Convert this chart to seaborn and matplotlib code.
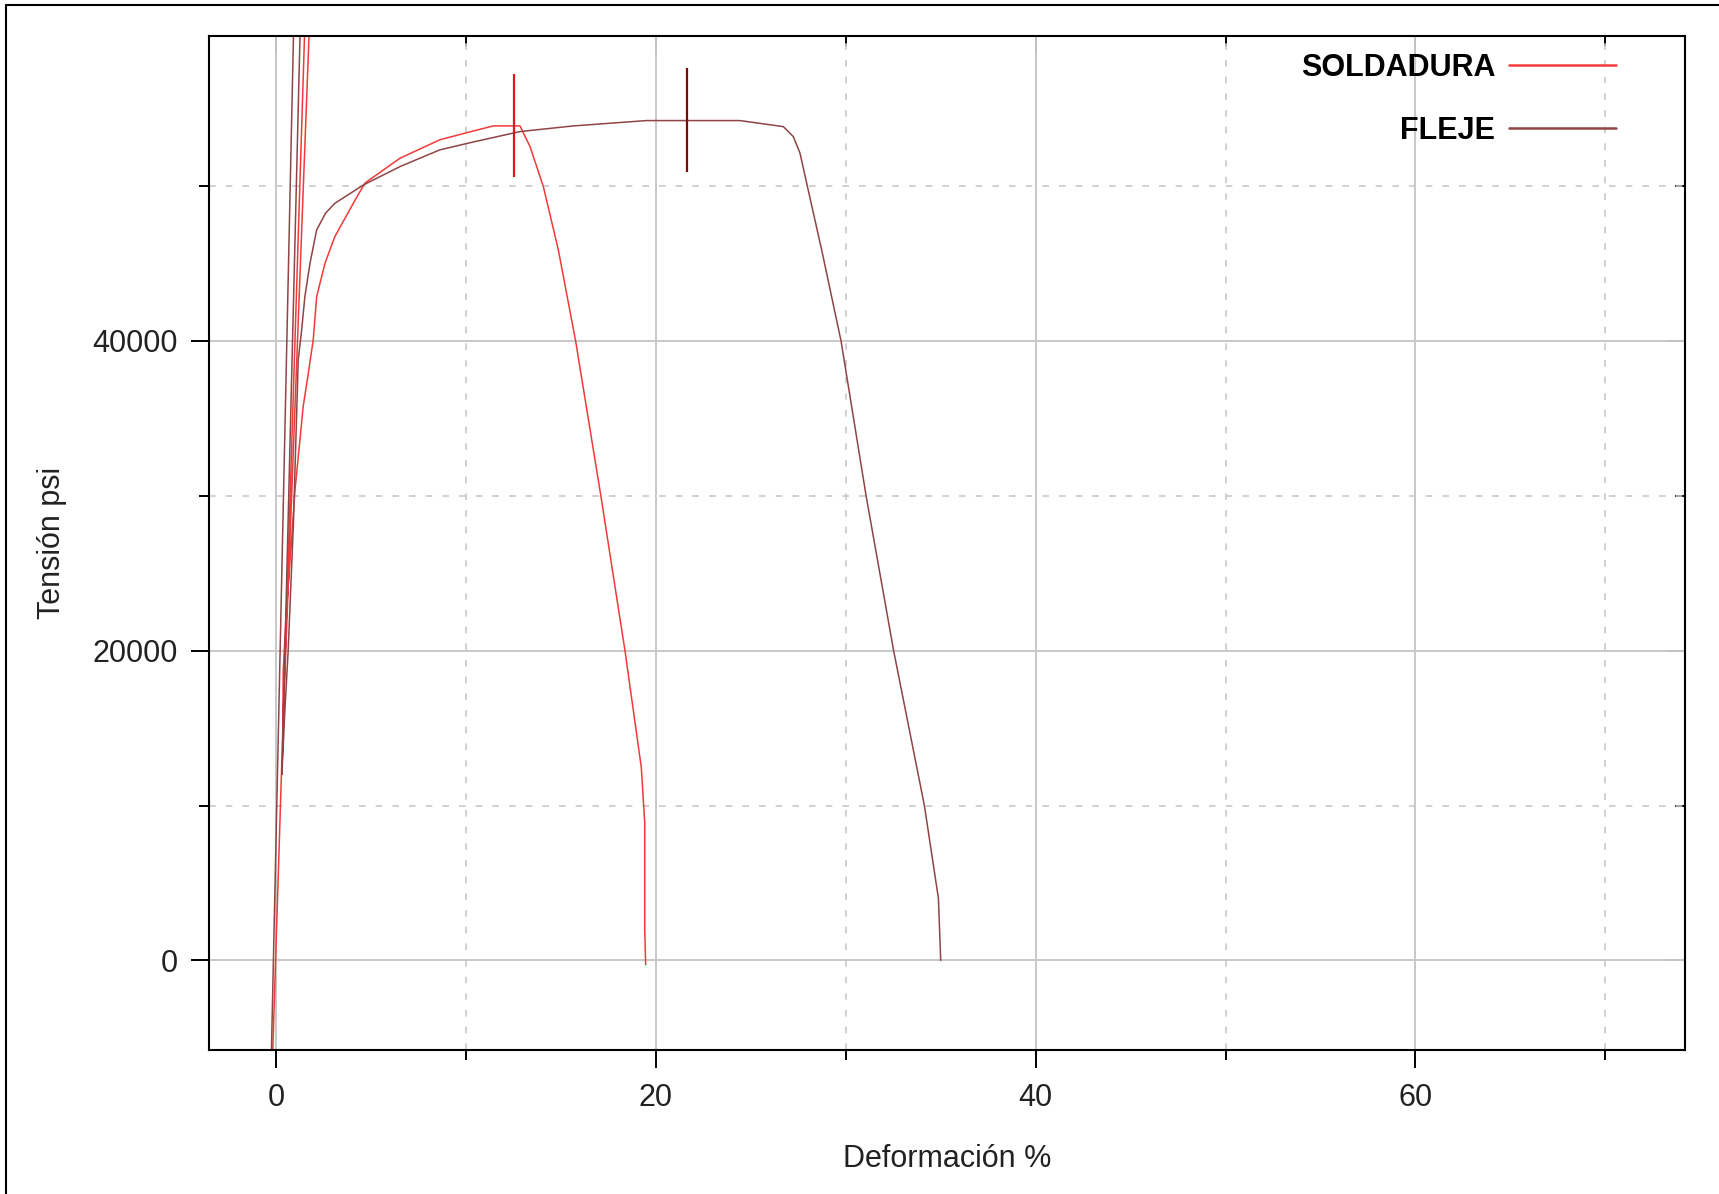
import seaborn as sns
import matplotlib.pyplot as plt
from matplotlib.lines import Line2D
from matplotlib.ticker import MultipleLocator

# SOLDADURA (weld) curve: strain %, stress psi
sold_x = [-0.18, 1.55, 1.8, 0.35, 0.37, 0.55, 0.81, 0.99, 1.25, 1.42, 1.69, 1.95, 2.13, 2.57, 3.09,
          4.06, 4.67, 6.52, 8.62, 10.2, 11.43, 12.84, 13.37, 14.07, 14.86, 15.77, 17.1, 18.37,
          19.23, 19.41, 19.41, 19.46]
sold_y = [-5800, 62000, 62000, 15000, 18750, 22840, 27150, 30380, 33610, 35760, 37910, 40070, 42860,
          45020, 46740, 48890, 50190, 51800, 52990, 53500, 53885, 53885, 52550, 49970, 45880, 40000,
          30000, 20000, 12460, 8925, 2000, -280]

# FLEJE (strip) curve
flej_x = [-0.25, 0.95, 1.3, 0.3, 0.45, 0.63, 0.9, 1.16, 1.34, 1.51, 1.78, 2.13, 2.6, 3.09, 4.59, 6.52,
          8.62, 10.28, 12.84, 15.65, 19.5, 24.43, 26.71, 27.24, 27.59, 27.94, 28.73, 29.75, 31.07,
          32.52, 34.14, 34.88, 35.0]
flej_y = [-5800, 62000, 62000, 12000, 16000, 20000, 28000, 38770, 40710, 42860, 45020, 47170, 48250,
          48890, 50070, 51260, 52340, 52820, 53520, 53885, 54230, 54230, 53840, 53190, 52120, 50190,
          45880, 40000, 30000, 20000, 10000, 4000, 0]

# max-stress markers
peak_x = [12.54, 21.65]
peak_lo = [50610, 50930]
peak_hi = [57225, 57610]

labels = ['SOLDADURA', 'FLEJE']
c_sold = '#f23a3a'
c_flej = '#8f4545'

sns.set_style('white')
plt.rcParams['font.family'] = ['Liberation Sans', 'DejaVu Sans']

fig = plt.figure(figsize=(17.19, 11.94), dpi=100)
ax = fig.add_axes([0.1218, 0.1206, 0.8584, 0.8491])

sns.lineplot(x=sold_x, y=sold_y, sort=False, estimator=None, color=c_sold, lw=1.1, ax=ax, label=labels[0])
sns.lineplot(x=flej_x, y=flej_y, sort=False, estimator=None, color=c_flej, lw=1.1, ax=ax, label=labels[1])
ax.vlines(peak_x[0], peak_lo[0], peak_hi[0], color='#e8141c', lw=1.6)
ax.vlines(peak_x[1], peak_lo[1], peak_hi[1], color='#7a0a0a', lw=1.6)

ax.set_xlim(-3.52, 74.2)
ax.set_ylim(-5786, 59680)

ax.xaxis.set_major_locator(MultipleLocator(20))
ax.xaxis.set_minor_locator(MultipleLocator(10))
ax.yaxis.set_major_locator(MultipleLocator(20000))
ax.yaxis.set_minor_locator(MultipleLocator(10000))
ax.grid(which='major', color='#c8c8c8', lw=1.4, ls='-')
ax.grid(which='minor', color='#c8c8c8', lw=1.2, ls=(0, (4, 6)))
ax.set_axisbelow(True)

ax.tick_params(which='both', bottom=True, left=True, top=False, right=False, direction='out',
               width=1.4, color='black')
ax.tick_params(which='major', length=13, labelsize=22, labelcolor='#222222')
ax.tick_params(axis='x', which='major', pad=11)
ax.tick_params(axis='y', which='major', pad=10)
ax.tick_params(which='minor', length=7)
for s in ax.spines.values():
    s.set_color('black')
    s.set_linewidth(1.5)

sx = ax.secondary_xaxis('top')
sy = ax.secondary_yaxis('right')
sx.tick_params(which='both', top=True, direction='in', width=1.4, color='black', labeltop=False)
sy.tick_params(which='both', right=True, direction='in', width=1.4, color='black', labelright=False)
for sec in (sx, sy):
    sec.tick_params(which='major', length=13)
    sec.tick_params(which='minor', length=7)
    for s in sec.spines.values():
        s.set_visible(False)
sx.xaxis.set_major_locator(MultipleLocator(20))
sx.xaxis.set_minor_locator(MultipleLocator(10))
sy.yaxis.set_major_locator(MultipleLocator(20000))
sy.yaxis.set_minor_locator(MultipleLocator(10000))

ax.set_xlabel('Deformación %', fontsize=22, labelpad=22, color='#222222')
ax.set_ylabel('Tensión psi', fontsize=22, labelpad=18, color='#222222')

leg = ax.legend(loc='upper right', bbox_to_anchor=(0.972, 1.011), frameon=False, markerfirst=False,
                handlelength=3.5, handletextpad=0.45, labelspacing=1.08,
                prop={'size': 22, 'weight': 'bold'})
for t in leg.get_texts():
    t.set_color('black')
for h in leg.get_lines():
    h.set_linewidth(1.8)

# screenshot border on top and left
fig.add_artist(Line2D([6 / 1719, 6 / 1719], [0, 1 - 5 / 1194], color='black', lw=1.5))
fig.add_artist(Line2D([6 / 1719, 1], [1 - 5 / 1194, 1 - 5 / 1194], color='black', lw=1.5))

fig.savefig('out.png', dpi=100)
